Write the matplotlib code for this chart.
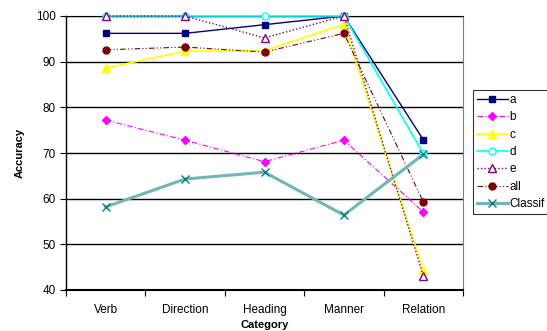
import matplotlib
matplotlib.use("Agg")
import matplotlib.pyplot as plt

plt.rcParams["font.family"] = ["Liberation Sans", "DejaVu Sans"]

categories = ["Verb", "Direction", "Heading", "Manner", "Relation"]
a = [96.2, 96.2, 98.1, 100.0, 72.9]
b = [77.2, 72.8, 68.1, 72.8, 57.1]
c = [88.6, 92.3, 92.4, 98.2, 44.3]
d = [100.0, 100.0, 100.0, 100.0, 69.9]
e = [100.0, 100.0, 95.2, 100.0, 43.1]
all_ = [92.6, 93.2, 92.1, 96.2, 59.3]
classif = [58.2, 64.3, 65.8, 56.4, 69.7]

fig = plt.figure(figsize=(5.47, 3.31), dpi=100)
ax = fig.add_axes([66 / 547, 41 / 331, 397 / 547, 274 / 331])

x = range(len(categories))
kw = dict(zorder=3, clip_on=False)
ax.plot(x, a, color="#000080", lw=1, marker="s", ms=5, label="a", **kw)
ax.plot(x, b, color="#ff00ff", lw=0.8, ls=(0, (5, 2, 1, 2)), marker="D", ms=4, label="b", **kw)
ax.plot(x, c, color="#ffff00", lw=1.2, marker="^", ms=6, label="c", **kw)
ax.plot(x, d, color="#00ffff", lw=1.2, marker="o", ms=5, mfc="white", label="d", **kw)
ax.plot(x, e, color="#800080", lw=1, ls=(0, (1, 1.5)), marker="^", ms=6, mfc="white", label="e", **kw)
ax.plot(x, all_, color="#800000", lw=0.8, ls=(0, (5, 2, 1, 2, 1, 2)), marker="o", ms=5, label="all", **kw)
ax.plot(x, classif, color="#6fb7b7", lw=2.2, marker="x", ms=6, mec="#008080", mew=1, label="Classif", **kw)

ax.set_xlim(-0.5, 4.5)
ax.set_ylim(40, 100)
ax.set_yticks(range(40, 101, 10))
ax.set_xticks([i - 0.5 for i in range(6)], minor=False)
ax.set_xticklabels([])
ax.set_xticks(list(x), minor=True)
ax.set_xticklabels(categories, minor=True)
ax.tick_params(axis="x", which="minor", length=0, pad=10, labelsize=8.5)
ax.tick_params(axis="x", which="major", length=4, direction="out")
ax.tick_params(axis="y", length=4, direction="out", labelsize=8.5)
ax.grid(axis="y", color="black", lw=1)
ax.set_axisbelow(True)
ax.spines["top"].set_color("black")
ax.spines["right"].set_color("#808080")
ax.spines["bottom"].set_linewidth(1.5)
ax.spines["left"].set_linewidth(1)

ax.set_xlabel("Category", fontsize=8, fontweight="bold", labelpad=3)
ax.set_ylabel("Accuracy", fontsize=8, fontweight="bold", labelpad=8)

leg = fig.legend(loc="upper left", bbox_to_anchor=(473 / 547, (331 - 90) / 331),
                 fontsize=8.5, frameon=True, fancybox=False, edgecolor="black",
                 handlelength=2.6, borderpad=0.35, labelspacing=0.45,
                 handletextpad=0.1, borderaxespad=0)
leg.get_frame().set_linewidth(0.8)

fig.savefig("out.png", dpi=100)
